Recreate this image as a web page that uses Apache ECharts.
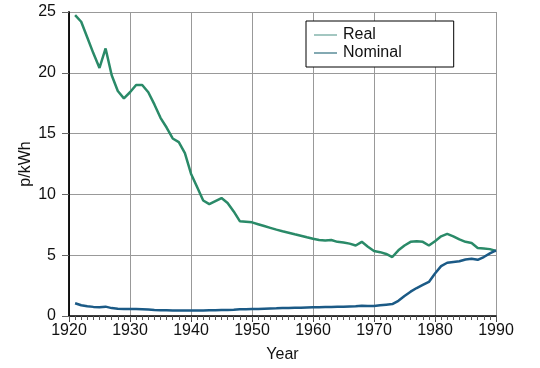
<!DOCTYPE html>
<html><head><meta charset="utf-8">
<script src="https://cdn.jsdelivr.net/npm/echarts@6/dist/echarts.min.js"></script>
<style>html,body{margin:0;padding:0;background:#fff}#c{width:540px;height:368px}</style>
</head><body><div id="c"></div>
<script>
const years = [];
for (let y = 1921; y <= 1990; y++) years.push(y);
const realValues = [24.75,24.2,22.9,21.6,20.4,22.0,19.8,18.5,17.9,18.4,
  19.0,19.0,18.4,17.4,16.3,15.5,14.6,14.3,13.4,11.7,
  10.6,9.5,9.2,9.45,9.7,9.3,8.6,7.8,7.75,7.7,
  7.55,7.4,7.25,7.1,6.97,6.85,6.72,6.6,6.47,6.35,
  6.25,6.2,6.25,6.1,6.05,5.95,5.8,6.1,5.7,5.35,
  5.25,5.1,4.85,5.4,5.8,6.1,6.15,6.1,5.8,6.15,
  6.55,6.75,6.55,6.3,6.1,6.0,5.6,5.55,5.5,5.35];
const nominalValues = [1.05,0.88,0.8,0.75,0.72,0.77,0.65,0.6,0.58,0.58,
  0.58,0.56,0.53,0.5,0.48,0.47,0.46,0.46,0.46,0.46,
  0.46,0.46,0.47,0.48,0.5,0.5,0.52,0.55,0.56,0.57,
  0.58,0.6,0.62,0.63,0.65,0.66,0.67,0.68,0.7,0.71,
  0.72,0.73,0.74,0.76,0.77,0.79,0.8,0.84,0.83,0.82,
  0.88,0.93,0.98,1.25,1.65,2.0,2.3,2.55,2.8,3.5,
  4.1,4.38,4.45,4.5,4.65,4.7,4.62,4.85,5.15,5.4];
const seriesNames = ['Real', 'Nominal'];
const xTicks = [1920,1930,1940,1950,1960,1970,1980,1990];
const yTicks = [0,5,10,15,20,25];

const chart = echarts.init(document.getElementById('c'), null, {renderer:'canvas'});
const font = 'Liberation Sans, Arial, sans-serif';
chart.setOption({
  animation: false,
  grid: {left: 69, right: 44, top: 12, bottom: 52, containLabel: false},
  legend: {
    orient: 'vertical', left: 306, top: 21,
    padding: [6, 52, 6, 8], itemGap: 2,
    borderColor: '#000', borderWidth: 1, backgroundColor: '#fff',
    icon: 'rect', itemWidth: 23, itemHeight: 1.5,
    textStyle: {fontFamily: font, fontSize: 16, color: '#111', padding: [0,0,0,1]},
    data: [
      {name: seriesNames[0], itemStyle: {color: '#84b4ac'}},
      {name: seriesNames[1], itemStyle: {color: '#5a8c98'}}
    ]
  },
  xAxis: [{
    type: 'value', min: xTicks[0], max: xTicks[xTicks.length-1], interval: 10,
    name: 'Year', nameLocation: 'middle', nameGap: 31,
    nameTextStyle: {fontFamily: font, fontSize: 16, color: '#111'},
    axisLine: {show: true, lineStyle: {color: '#000', width: 1.5}},
    axisTick: {show: true, length: 6, lineStyle: {color: '#444'}},
    axisLabel: {fontFamily: font, fontSize: 16, color: '#111', margin: 7, formatter: v => String(v)},
    splitLine: {show: true, lineStyle: {color: '#999', width: 1}}
  }, {
    type: 'value', min: xTicks[0], max: xTicks[xTicks.length-1], interval: 1,
    position: 'bottom', offset: 0,
    axisLine: {show: false},
    axisTick: {show: true, length: 4, lineStyle: {color: '#555'}},
    axisLabel: {show: false},
    splitLine: {show: false}
  }],
  yAxis: {
    type: 'value', min: yTicks[0], max: yTicks[yTicks.length-1], interval: 5,
    name: 'p/kWh', nameLocation: 'middle', nameGap: 35, nameRotate: 90,
    nameMoveOverlap: false,
    nameTextStyle: {fontFamily: font, fontSize: 16, color: '#111'},
    axisLine: {show: true, lineStyle: {color: '#000', width: 1.8}},
    axisTick: {show: true, length: 7, lineStyle: {color: '#666'}},
    axisLabel: {fontFamily: font, fontSize: 16, color: '#111', margin: 13},
    splitLine: {show: true, lineStyle: {color: '#999', width: 1}}
  },
  series: [
    {name: seriesNames[0], type: 'line', xAxisIndex: 0, showSymbol: false, symbol: 'none',
     data: years.map((y,i) => [y, realValues[i]]),
     lineStyle: {color: '#2a8a68', width: 2.5}, itemStyle: {color: '#2a8a68'}},
    {name: seriesNames[1], type: 'line', xAxisIndex: 0, showSymbol: false, symbol: 'none',
     data: years.map((y,i) => [y, nominalValues[i]]),
     lineStyle: {color: '#1b5a86', width: 2.5}, itemStyle: {color: '#1b5a86'}}
  ]
});
</script></body></html>
